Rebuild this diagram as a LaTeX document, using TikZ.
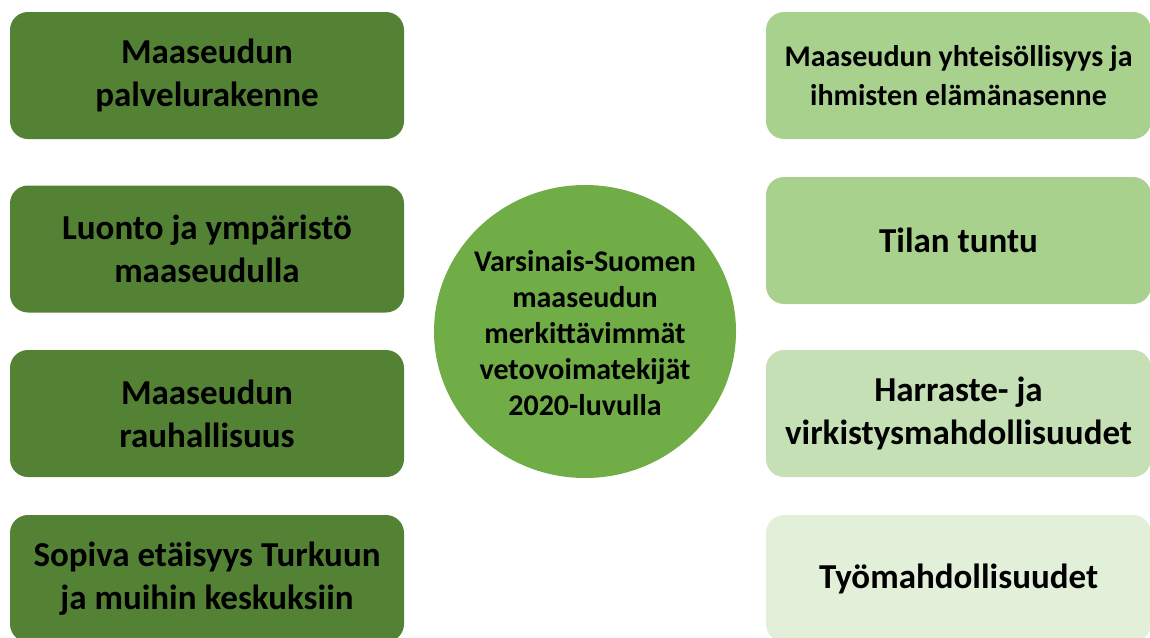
\documentclass[tikz,border=0pt]{standalone}
\usepackage{fontspec}
\setmainfont{Carlito}

\definecolor{darkgreen}{HTML}{548235}
\definecolor{midgreen}{HTML}{70AD47}
\definecolor{lightgreen}{HTML}{A9D18E}
\definecolor{palegreen}{HTML}{C5E0B4}
\definecolor{palestgreen}{HTML}{E2F0D9}

\tikzset{
  factor/.style={rounded corners=18pt, minimum width=394pt, minimum height=127pt,
    inner sep=0pt, align=center, font=\bfseries\fontsize{35}{43}\selectfont},
  leftbox/.style={factor, fill=darkgreen},
  rightbox/.style={factor, minimum width=385pt},
  hubtext/.style={inner sep=0pt, align=center, font=\bfseries\fontsize{30}{36}\selectfont}
}

\begin{document}
\begin{tikzpicture}[x=1pt,y=-1pt]
\useasboundingbox (0,0) rectangle (1150,637);
\clip (0,0) rectangle (1150,637);

% left column
\node[leftbox] (palvelu) at (207,75.5) {Maaseudun\\palvelurakenne};
\node[leftbox] (luonto) at (207,249) {Luonto ja ympäristö\\maaseudulla};
\node[leftbox] (rauha) at (207,413.5) {Maaseudun\\rauhallisuus};
\node[leftbox] (etaisyys) at (207,578.5) {Sopiva etäisyys Turkuun\\ja muihin keskuksiin};

% centre
\fill[midgreen] (585,331.5) ellipse [x radius=151, y radius=146.5];
\node[hubtext] (vetovoima) at (585,333.5) {Varsinais-Suomen\\maaseudun\\merkittävimmät\\vetovoimatekijät\\2020-luvulla};

% right column
\node[rightbox, fill=lightgreen, font=\bfseries\fontsize{30}{39}\selectfont] (yhteiso) at (958.5,75.5) {Maaseudun yhteisöllisyys ja\\ihmisten elämänasenne};
\node[rightbox, fill=lightgreen] (tila) at (958.5,240.5) {Tilan tuntu};
\node[rightbox, fill=palegreen] (harraste) at (958.5,413.5) {Harraste- ja\\virkistysmahdollisuudet};
\node[rightbox, fill=palestgreen] (tyo) at (958.5,578.5) {Työmahdollisuudet};
\end{tikzpicture}
\end{document}
